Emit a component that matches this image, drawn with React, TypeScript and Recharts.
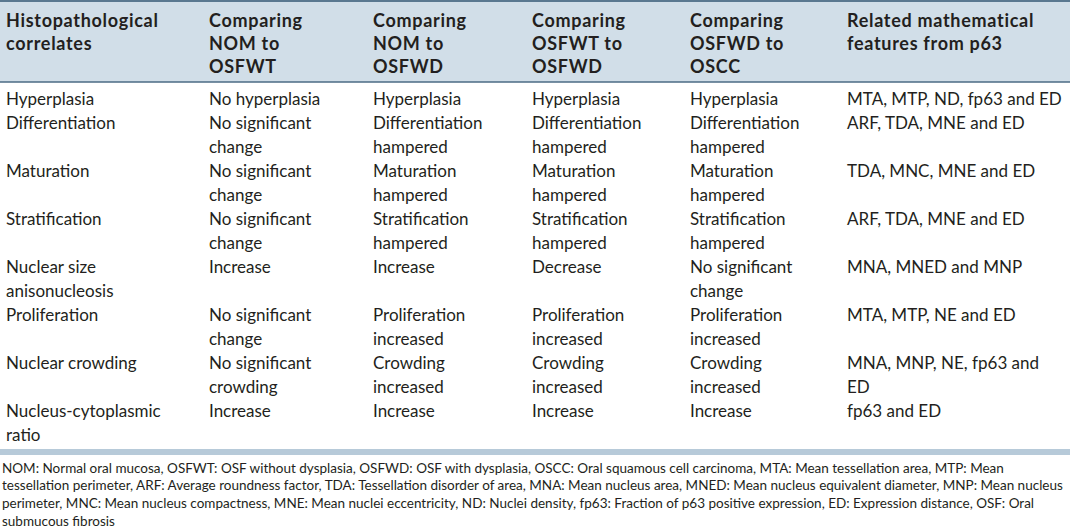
import { ScatterChart, Scatter, XAxis, YAxis, ReferenceArea, ReferenceLine } from 'recharts';

// table content
const HEADERS = [
  'Histopathological\ncorrelates',
  'Comparing\nNOM to\nOSFWT',
  'Comparing\nNOM to\nOSFWD',
  'Comparing\nOSFWT to\nOSFWD',
  'Comparing\nOSFWD to\nOSCC',
  'Related mathematical\nfeatures from p63',
];

const CORRELATES = [
  'Hyperplasia',
  'Differentiation',
  'Maturation',
  'Stratification',
  'Nuclear size\nanisonucleosis',
  'Proliferation',
  'Nuclear crowding',
  'Nucleus-cytoplasmic\nratio',
];

const NOM_TO_OSFWT = [
  'No hyperplasia',
  'No significant\nchange',
  'No significant\nchange',
  'No significant\nchange',
  'Increase',
  'No significant\nchange',
  'No significant\ncrowding',
  'Increase',
];

const NOM_TO_OSFWD = [
  'Hyperplasia',
  'Differentiation\nhampered',
  'Maturation\nhampered',
  'Stratification\nhampered',
  'Increase',
  'Proliferation\nincreased',
  'Crowding\nincreased',
  'Increase',
];

const OSFWT_TO_OSFWD = [
  'Hyperplasia',
  'Differentiation\nhampered',
  'Maturation\nhampered',
  'Stratification\nhampered',
  'Decrease',
  'Proliferation\nincreased',
  'Crowding\nincreased',
  'Increase',
];

const OSFWD_TO_OSCC = [
  'Hyperplasia',
  'Differentiation\nhampered',
  'Maturation\nhampered',
  'Stratification\nhampered',
  'No significant\nchange',
  'Proliferation\nincreased',
  'Crowding\nincreased',
  'Increase',
];

const FEATURES = [
  'MTA, MTP, ND, fp63 and ED',
  'ARF, TDA, MNE and ED',
  'TDA, MNC, MNE and ED',
  'ARF, TDA, MNE and ED',
  'MNA, MNED and MNP',
  'MTA, MTP, NE and ED',
  'MNA, MNP, NE, fp63 and\nED',
  'fp63 and ED',
];

const FOOTNOTE = [
  'NOM: Normal oral mucosa, OSFWT: OSF without dysplasia, OSFWD: OSF with dysplasia, OSCC: Oral squamous cell carcinoma, MTA: Mean tessellation area, MTP: Mean',
  'tessellation perimeter, ARF: Average roundness factor, TDA: Tessellation disorder of area, MNA: Mean nucleus area, MNED: Mean nucleus equivalent diameter, MNP: Mean nucleus',
  'perimeter, MNC: Mean nucleus compactness, MNE: Mean nuclei eccentricity, ND: Nuclei density, fp63: Fraction of p63 positive expression, ED: Expression distance, OSF: Oral',
  'submucous fibrosis',
];

// layout
const W = 1070;
const H = 529;
const COL_X = [6, 209, 373, 532, 690, 847];
const HEAD_TOP = 8.5;
const HEAD_PITCH = 23;
const HEAD_BOTTOM = 82;
const BODY_TOP = 86;
const BODY_PITCH = 24;
const BAND_Y = 452;
const NOTE_TOP = 459;
const NOTE_PITCH = 17.6;
const TEXT = '#231f20';
const FONT = 'Lato, "Open Sans", sans-serif';

const bodyCols = [CORRELATES, NOM_TO_OSFWT, NOM_TO_OSFWD, OSFWT_TO_OSFWD, OSFWD_TO_OSCC, FEATURES];

interface Cell {
  x: number;
  y: number;
  lines: string[];
  pitch: number;
}

const headerCells: Cell[] = HEADERS.map((h, i) => ({
  x: COL_X[i],
  y: HEAD_TOP,
  lines: h.split('\n'),
  pitch: HEAD_PITCH,
}));

const bodyCells: Cell[] = [];
let lineIdx = 0;
CORRELATES.forEach((_, r) => {
  const rowLines = Math.max(...bodyCols.map((c) => c[r].split('\n').length));
  bodyCols.forEach((col, c) => {
    bodyCells.push({
      x: COL_X[c],
      y: BODY_TOP + lineIdx * BODY_PITCH,
      lines: col[r].split('\n'),
      pitch: BODY_PITCH,
    });
  });
  lineIdx += rowLines;
});

const noteCells: Cell[] = [{ x: 2, y: NOTE_TOP, lines: FOOTNOTE, pitch: NOTE_PITCH }];

function makeShape(fontSize: number, fontWeight: number, letterSpacing = 0) {
  return (props: any) => {
    const { cx, cy, payload } = props;
    const cell = payload as Cell;
    return (
      <text
        x={cx}
        y={cy}
        fill={TEXT}
        fontFamily={FONT}
        fontSize={fontSize}
        fontWeight={fontWeight}
        letterSpacing={letterSpacing}
        dominantBaseline="central"
      >
        {cell.lines.map((l, i) => (
          <tspan key={i} x={cx} y={cy + cell.pitch / 2 + i * cell.pitch}>
            {l}
          </tspan>
        ))}
      </text>
    );
  };
}

export default function App() {
  return (
    <div style={{ position: 'absolute', left: 0, top: 0, background: '#fff' }}>
      <ScatterChart width={W} height={H} margin={{ top: 0, right: 0, bottom: 0, left: 0 }}>
        <XAxis type="number" dataKey="x" domain={[0, W]} hide allowDataOverflow />
        <YAxis type="number" dataKey="y" domain={[0, H]} reversed hide allowDataOverflow />
        <ReferenceArea x1={0} x2={W} y1={0} y2={HEAD_BOTTOM} fill="#d1dee8" fillOpacity={1} stroke="none" />
        <ReferenceLine y={1} stroke="#5a7890" strokeWidth={2} />
        <ReferenceLine y={HEAD_BOTTOM} stroke="#4b6b84" strokeWidth={1.5} />
        <ReferenceArea x1={0} x2={W} y1={BAND_Y - 3} y2={BAND_Y + 3} fill="#b7cad9" fillOpacity={1} stroke="none" />
        <Scatter data={headerCells} shape={makeShape(18, 700, 0.7)} isAnimationActive={false} />
        <Scatter data={bodyCells} shape={makeShape(17, 400)} isAnimationActive={false} />
        <Scatter data={noteCells} shape={makeShape(13.5, 400)} isAnimationActive={false} />
      </ScatterChart>
    </div>
  );
}
